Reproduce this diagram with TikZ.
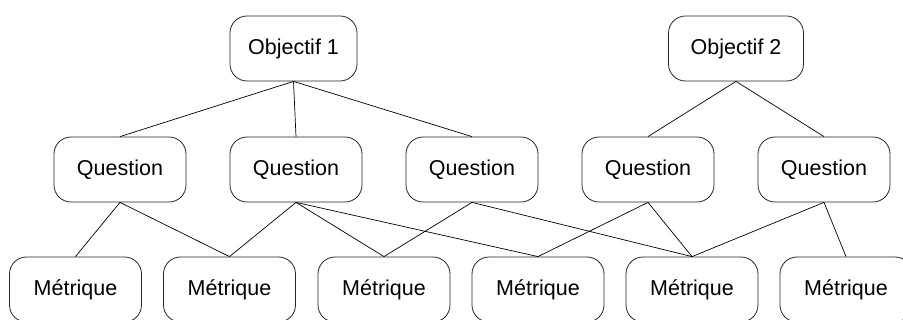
\documentclass[tikz,border=0pt]{standalone}
\usepackage{fontspec}
\setmainfont{Liberation Sans}
\begin{document}
\begin{tikzpicture}[x=1pt,y=-1pt,
  box/.style={draw=black!85, line width=0.8pt, rounded corners=17pt, fill=white,
              minimum height=65pt, inner sep=0pt, font=\fontsize{21.5}{25}\selectfont},
  link/.style={draw=black, line width=0.7pt}]
\clip (0,0) rectangle (903,320);
\fill[white] (0,0) rectangle (903,320);

% goals
\node[box, minimum width=127pt] (o1) at (293.5,48.5) {Objectif 1};
\node[box, minimum width=135pt] (o2) at (736,48.5) {Objectif 2};

% questions
\foreach \n/\x in {1/120,2/296,3/472,4/648,5/824}
  \node[box, minimum width=132pt] (q\n) at (\x,169.5) {Question};

% metrics
\foreach \n/\x in {1/75.5,2/229.5,3/384,4/538,5/692,6/846}
  \node[box, minimum width=132pt] (m\n) at (\x,289.5) {Métrique};

% goal -> question -> metric links
\foreach \a/\b in {o1/q1,o1/q2,o1/q3,o2/q4,o2/q5,
                   q1/m1,q1/m2,q2/m2,q2/m3,q2/m4,q3/m3,q3/m5,
                   q4/m4,q4/m5,q5/m5,q5/m6}
  \draw[link] (\a.south) -- (\b.north);
\end{tikzpicture}
\end{document}
